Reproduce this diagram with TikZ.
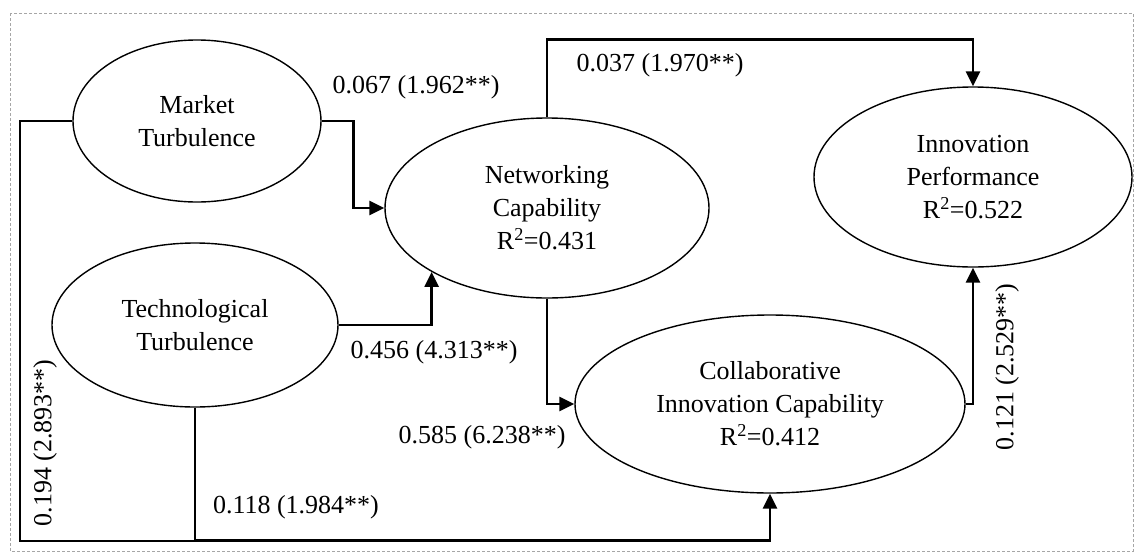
\documentclass[tikz,border=0pt]{standalone}
\usepackage{fontspec}
\setmainfont{Liberation Serif}
\usetikzlibrary{arrows.meta,shapes.geometric}
\begin{document}
\begin{tikzpicture}[x=1pt,y=-1pt,
  construct/.style={draw,ellipse,line width=1.4pt,inner sep=0pt,align=center,
    font=\fontsize{26}{33}\selectfont},
  conn/.style={line width=2.6pt,-{Triangle[length=15pt,width=14pt]}},
  plain/.style={line width=2.6pt},
  coef/.style={inner sep=0pt,font=\fontsize{26}{33}\selectfont}]
\useasboundingbox (0,0) rectangle (1135,552);
% frame
\draw[gray!70,line width=1pt,dash pattern=on 3pt off 2pt] (10,13) rectangle (1133,551);

% constructs
\node[construct,minimum width=248pt,minimum height=162pt] (mt) at (197,121) {Market\\Turbulence};
\node[construct,minimum width=286pt,minimum height=164pt] (tt) at (195,325) {Technological\\Turbulence};
\node[construct,minimum width=324pt,minimum height=180pt] (nc) at (547,208) {Networking\\Capability\\R\textsuperscript{2}=0.431};
\node[construct,minimum width=318pt,minimum height=180pt] (ip) at (973,177) {Innovation\\Performance\\R\textsuperscript{2}=0.522};
\node[construct,minimum width=390pt,minimum height=178pt] (ci) at (770,404) {Collaborative\\Innovation Capability\\R\textsuperscript{2}=0.412};

% paths
\draw[conn] (mt.east) -- ++(32,0) |- (nc.west);
\draw[conn] (tt.east) -| (nc.209.3);
\draw[conn] (nc.south) |- (ci.west);
\draw[conn] (nc.north) -- ++(0,-78) -| (ip.north);
\draw[conn] (ci.east) -| (ip.south);
\draw[conn] (tt.south) -- ++(0,133) -| (ci.south);
\coordinate (jl) at (20,541);
\coordinate (jr) at (tt.south |- jl);
\draw[plain] (mt.west) -| (jl) -- (jr);

% path coefficients
\node[coef] (l1) at (416,87) {0.067 (1.962**)};
\node[coef] (l2) at (660,65) {0.037 (1.970**)};
\node[coef] (l3) at (434,352) {0.456 (4.313**)};
\node[coef] (l4) at (482,437) {0.585 (6.238**)};
\node[coef] (l5) at (296,507) {0.118 (1.984**)};
\node[coef,rotate=90] (l6) at (45,443) {0.194 (2.893**)};
\node[coef,rotate=90] (l7) at (1007,367) {0.121 (2.529**)};
\end{tikzpicture}
\end{document}
